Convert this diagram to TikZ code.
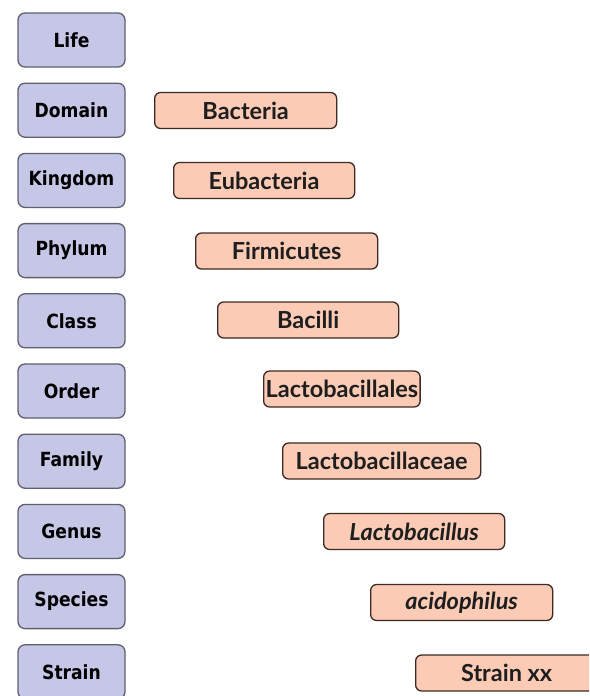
\documentclass[tikz,border=0pt]{standalone}
\usepackage{fontspec}
\newfontfamily\leftfont[FakeStretch=0.88]{DejaVu Sans}
\newfontfamily\rightfont{Lato}
\definecolor{lavfill}{RGB}{198,199,231}
\definecolor{lavdraw}{RGB}{95,95,110}
\definecolor{salfill}{RGB}{251,203,182}
\definecolor{saldraw}{RGB}{62,42,36}
\definecolor{txt}{RGB}{30,30,30}
\tikzset{
  rankbox/.style={draw=lavdraw, fill=lavfill, line width=1.3pt, rounded corners=7pt,
    minimum width=107pt, minimum height=54pt, inner sep=0pt,
    font=\leftfont\bfseries\fontsize{19.5}{22}\selectfont, text=black},
  taxbox/.style={draw=saldraw, fill=salfill, line width=1.3pt, rounded corners=6pt,
    minimum height=36pt, inner xsep=2pt, inner ysep=0pt, anchor=west,
    font=\rightfont\bfseries\fontsize{23.5}{26}\selectfont, text=txt},
}
\begin{document}
\begin{tikzpicture}[x=1pt,y=-1pt]
\useasboundingbox (0,0) rectangle (589,696);
\clip (0,0) rectangle (589,696);
\fill[white] (0,0) rectangle (589,696);
% left column
\node[rankbox] (l0) at (71.5,40) {Life};
\node[rankbox] (l1) at (71.5,110.2) {Domain};
\node[rankbox] (l2) at (71.5,180.4) {Kingdom};
\node[rankbox] (l3) at (71.5,250.6) {Phylum};
\node[rankbox] (l4) at (71.5,320.8) {Class};
\node[rankbox] (l5) at (71.5,391) {Order};
\node[rankbox] (l6) at (71.5,461.2) {Family};
\node[rankbox] (l7) at (71.5,531.4) {Genus};
\node[rankbox] (l8) at (71.5,601.6) {Species};
\node[rankbox] (l9) at (71.5,671.8) {Strain};
% right column
\node[taxbox, minimum width=182pt] (r1) at (154,110.5) {Bacteria};
\node[taxbox, minimum width=181pt] (r2) at (173,180.5) {Eubacteria};
\node[taxbox, minimum width=182pt] (r3) at (195,251) {Firmicutes};
\node[taxbox, minimum width=181pt] (r4) at (217,320) {Bacilli};
\node[taxbox, minimum width=155pt] (r5) at (263,389) {Lactobacillales};
\node[taxbox, minimum width=198pt] (r6) at (282,461) {Lactobacillaceae};
\node[taxbox, minimum width=181pt] (r7) at (323,531.5) {\itshape Lactobacillus};
\node[taxbox, minimum width=182pt] (r8) at (370,602.5) {\itshape acidophilus};
\node[taxbox, minimum width=182pt] (r9) at (415,673) {Strain xx};
\end{tikzpicture}
\end{document}
